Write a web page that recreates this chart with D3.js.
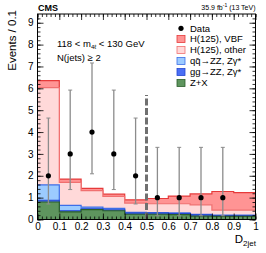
<!DOCTYPE html>
<html>
<head>
<meta charset="utf-8">
<script src="https://cdn.jsdelivr.net/npm/d3@7"></script>
<style>
  body { margin: 0; background: #fff; }
  text { font-family: "Liberation Sans", Arial, Helvetica, sans-serif; fill: #000; }
</style>
</head>
<body>
<div id="chart"></div>
<script>
// ----------------------------------------------------------
// Datos
// ----------------------------------------------------------
const binEdges = [0, 0.1, 0.2, 0.3, 0.4, 0.5, 0.6, 0.7, 0.8, 0.9, 1.0];
const zx      = [0.80, 0.35, 0.45, 0.40, 0.24, 0.24, 0.22, 0.15, 0.14, 0.14];
const ggZZ    = [0.08, 0.05, 0.04, 0.04, 0.05, 0.05, 0.05, 0.06, 0.04, 0.04];
const qqZZ    = [0.70, 0.25, 0.08, 0.07, 0.04, 0.03, 0.03, 0.02, 0.02, 0.02];
const hOther  = [4.45, 1.05, 0.75, 0.55, 0.42, 0.40, 0.42, 0.44, 0.23, 0.23];
const hVBF    = [0.32, 0.15, 0.10, 0.10, 0.15, 0.24, 0.35, 0.50, 0.85, 0.80];

const dataX    = [0.05, 0.15, 0.25, 0.35, 0.45, 0.55, 0.65, 0.75, 0.85];
const dataY    = [2, 3, 4, 3, 2, 1, 1, 1, 1];
const dataLow  = [0.71, 1.37, 2.09, 1.37, 0.71, 0.17, 0.17, 0.17, 0.17];
const dataHigh = [4.64, 5.92, 7.16, 5.92, 4.64, 3.30, 3.30, 3.30, 3.30];

const xTicks = [0, 0.1, 0.2, 0.3, 0.4, 0.5, 0.6, 0.7, 0.8, 0.9, 1];
const yTicks = [0, 1, 2, 3, 4, 5, 6, 7, 8, 9];
const cutValue = 0.5;
const cutTop = 5.7;

const legendNames = ["Data", "H(125), VBF", "H(125), other", "qq\u0304\u2192ZZ, Z\u03b3*", "gg\u2192ZZ, Z\u03b3*", "Z+X"];

// capas de abajo a arriba
const layers = [
    { name: "Z+X",    values: zx,     fill: "#5e955e", stroke: "#2b5e2b" },
    { name: "ggZZ",   values: ggZZ,   fill: "#4a6ff5", stroke: "#2346d0" },
    { name: "qqZZ",   values: qqZZ,   fill: "#9ccbff", stroke: "#3d6ee8" },
    { name: "other",  values: hOther, fill: "#ffd9d9", stroke: "#f07070" },
    { name: "VBF",    values: hVBF,   fill: "#ff9494", stroke: "#e63a3a" }
];

// ----------------------------------------------------------
// ----------------------------------------------------------
const width = 266;
const height = 253;
const margin = { top: 14, right: 10.5, bottom: 33.5, left: 37.5 };
const innerW = width - margin.left - margin.right;
const innerH = height - margin.top - margin.bottom;

const svg = d3.select("#chart").append("svg")
    .attr("width", width)
    .attr("height", height);

const x = d3.scaleLinear().domain([0, 1]).range([0, innerW]);
const y = d3.scaleLinear().domain([0, 9.4]).range([innerH, 0]);

const elementGroup = svg.append("g")
    .attr("transform", `translate(${margin.left}, ${margin.top})`);

// acumulados
let cum = binEdges.slice(0, -1).map(() => 0);
layers.forEach(l => {
    l.cum = l.values.map((v, i) => cum[i] + v);
    cum = l.cum;
});

// histogramas apilados, se dibujan de arriba a abajo
const area = d3.area()
    .curve(d3.curveStepAfter)
    .x(d => x(d.x))
    .y0(y(0))
    .y1(d => y(d.v));
const line = d3.line()
    .curve(d3.curveStepAfter)
    .x(d => x(d.x))
    .y(d => y(d.v));

layers.slice().reverse().forEach(l => {
    const pts = binEdges.map((e, i) => ({ x: e, v: l.cum[Math.min(i, l.cum.length - 1)] }));
    elementGroup.append("path")
        .attr("d", area(pts))
        .attr("fill", l.fill);
    elementGroup.append("path")
        .attr("d", line(pts))
        .attr("fill", "none")
        .attr("stroke", l.stroke)
        .attr("stroke-width", 1.2);
});

// linea de corte
elementGroup.append("line")
    .attr("x1", x(cutValue)).attr("x2", x(cutValue))
    .attr("y1", y(0)).attr("y2", y(cutTop))
    .attr("stroke", "#707070")
    .attr("stroke-width", 3)
    .attr("stroke-dasharray", "7,2.5");

// datos
const pts = dataX.map((d, i) => ({ x: d, y: dataY[i], lo: dataLow[i], hi: dataHigh[i] }));
elementGroup.selectAll(".err").data(pts).enter().append("line")
    .attr("x1", d => x(d.x)).attr("x2", d => x(d.x))
    .attr("y1", d => y(d.lo)).attr("y2", d => y(d.hi))
    .attr("stroke", "#8c8c8c").attr("stroke-width", 1.3);
elementGroup.selectAll(".capH").data(pts).enter().append("line")
    .attr("x1", d => x(d.x) - 2).attr("x2", d => x(d.x) + 2)
    .attr("y1", d => y(d.hi)).attr("y2", d => y(d.hi))
    .attr("stroke", "#8c8c8c").attr("stroke-width", 1);
elementGroup.selectAll(".capL").data(pts).enter().append("line")
    .attr("x1", d => x(d.x) - 2).attr("x2", d => x(d.x) + 2)
    .attr("y1", d => y(d.lo)).attr("y2", d => y(d.lo))
    .attr("stroke", "#8c8c8c").attr("stroke-width", 1);
elementGroup.selectAll("circle").data(pts).enter().append("circle")
    .attr("cx", d => x(d.x))
    .attr("cy", d => y(d.y))
    .attr("r", 2.6)
    .attr("fill", "#000");

// ejes: ticks hacia dentro en los cuatro lados
const axisGroup = svg.append("g").attr("transform", `translate(${margin.left}, ${margin.top})`);
const xMinor = d3.range(0, 1.0001, 0.02);
const yMinor = d3.range(0, 9.4, 0.2);

function addAxis(gen, scale, major, minor, tx, ty, labels) {
    const gMin = axisGroup.append("g").attr("transform", `translate(${tx}, ${ty})`)
        .call(gen(scale).tickValues(minor).tickSize(-3).tickFormat(""));
    const gMaj = axisGroup.append("g").attr("transform", `translate(${tx}, ${ty})`)
        .call(gen(scale).tickValues(major).tickSize(-6).tickPadding(labels ? 9 : 0)
              .tickFormat(labels ? d3.format("") : ""));
    [gMin, gMaj].forEach(g => {
        g.select(".domain").remove();
        g.selectAll("line").attr("stroke", "#000").attr("stroke-width", 0.8);
        g.selectAll("text").style("font-size", "10px")
            .style("font-family", "'Liberation Sans', Arial, sans-serif");
    });
    return gMaj;
}
const gx = addAxis(d3.axisBottom, x, xTicks, xMinor, 0, innerH, true);
addAxis(d3.axisTop, x, xTicks, xMinor, 0, 0, false);
const gy = addAxis(d3.axisLeft, y, yTicks, yMinor, 0, 0, true);
addAxis(d3.axisRight, y, yTicks, yMinor, innerW, 0, false);
gx.selectAll("text").attr("dy", "0.71em").attr("y", 3);
gy.selectAll("text").attr("x", -4);

axisGroup.append("rect")
    .attr("width", innerW).attr("height", innerH)
    .attr("fill", "none").attr("stroke", "#000").attr("stroke-width", 1);

// textos
svg.append("text").attr("x", 38).attr("y", 11)
    .style("font-size", "9px").style("font-weight", "bold").text("CMS");
const lumi = svg.append("text").attr("x", 255.5).attr("y", 10)
    .attr("text-anchor", "end").style("font-size", "7px");
lumi.append("tspan").text("35.9 fb");
lumi.append("tspan").attr("dy", -3).style("font-size", "5px").text("-1");
lumi.append("tspan").attr("dy", 3).text(" (13 TeV)");

svg.append("text")
    .attr("transform", "translate(16, 10) rotate(-90)")
    .attr("text-anchor", "end")
    .style("font-size", "11.5px")
    .text("Events / 0.1");

const xt = svg.append("text").attr("x", 256).attr("y", 243)
    .attr("text-anchor", "end").style("font-size", "11.5px");
xt.append("tspan").text("D");
xt.append("tspan").attr("dy", 3).style("font-size", "8px").text("2jet");

const mtxt = svg.append("text").attr("x", 57).attr("y", 47).style("font-size", "9.5px");
mtxt.append("tspan").text("118 < m");
mtxt.append("tspan").attr("dy", 2).style("font-size", "6px").text("4\u2113");
mtxt.append("tspan").attr("dy", -2).text(" < 130 GeV");
svg.append("text").attr("x", 57).attr("y", 61).style("font-size", "9.5px").text("N(jets) \u2265 2");

// leyenda
const legendRows = [28.3, 39, 50, 61, 72, 83];
const legendStyles = [null, layers[4], layers[3], layers[2], layers[1], layers[0]];
const legend = svg.append("g");
legendRows.forEach((ly, i) => {
    if (i === 0) {
        legend.append("circle").attr("cx", 181).attr("cy", ly).attr("r", 2.6).attr("fill", "#000");
    } else {
        legend.append("rect").attr("x", 177).attr("y", ly - 3.5).attr("width", 8).attr("height", 7)
            .attr("fill", legendStyles[i].fill).attr("stroke", legendStyles[i].stroke).attr("stroke-width", 0.8);
    }
    legend.append("text").attr("x", 190).attr("y", ly + 3.3)
        .style("font-size", "9.5px").text(legendNames[i]);
});
</script>
</body>
</html>
